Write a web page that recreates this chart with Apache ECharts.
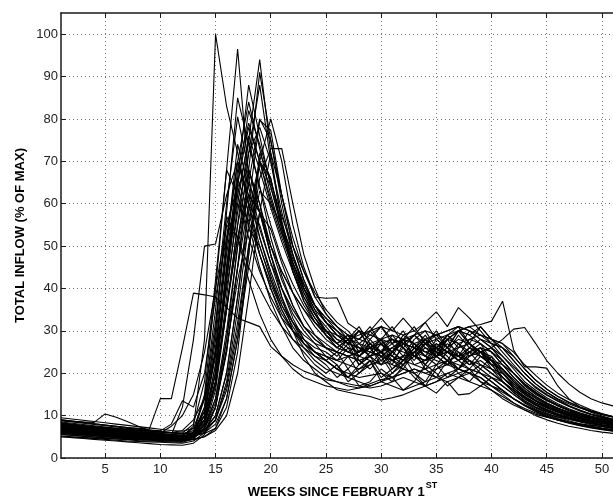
<!DOCTYPE html>
<html>
<head>
<meta charset="utf-8">
<script src="https://cdn.jsdelivr.net/npm/echarts@6/dist/echarts.min.js"></script>
<style>
  html, body { margin: 0; padding: 0; background: #fff; }
  #chart { width: 613px; height: 498px; }
</style>
</head>
<body>
<div id="chart"></div>
<script>
// Weekly total inflow, one line per year, as percent of the record weekly maximum
const weeks = [1,2,3,4,5,6,7,8,9,10,11,12,13,14,15,16,17,18,19,20,21,22,23,24,25,26,
  27,28,29,30,31,32,33,34,35,36,37,38,39,40,41,42,43,44,45,46,47,48,49,50,51,52];
const xTickValues = [5,10,15,20,25,30,35,40,45,50];
const yTickValues = [0,10,20,30,40,50,60,70,80,90,100];

const s01 = [7.5,7.3,7.0,6.8,6.5,6.3,6.1,5.9,5.7,5.5,5.3,5.1, 7.5,28,100,83,72,60,50,42,36,32,29,27,26,25,24,23,24,25,23,22,24,26,25,23,24,26,25,23, 20,17,15,13.5,12.5,11.6,10.9,10.3,9.7,9.2,8.8,8.4];
const s02 = [6.5,6.3,6.1,5.9,5.7,5.5,5.3,5.1,4.9,4.7,4.5,4.4, 6,15,40,68,96.5,66,54,46,40,35,31,29, 27,25,28,23,21,24,20,23,26,22,25,28,24,22,25,21, 18,15.5,13.5,12,11,10.2,9.5,9,8.5,8.1,7.8,7.5];
const s03 = [8,7.7,7.4,7.1,6.8,6.5,6.3,6.1,5.9,5.7,5.5,5.3, 5.8,9,18,35,55,75,94,72,55,44,37,33, 30,27,29,25,30,27,24,28,31,27,25,29,26,30,28,26, 23,20,17,15,13.5,12.3,11.3,10.5,9.8,9.2,8.7,8.3];
const s04 = [9,8.7,8.4,8.1,7.8,7.5,7.2,7.0,6.8,14,14,26, 38.9,38.5,38,35.5,33,32,31,26.3,24,22,20.5,19.5,18.5,18,17.5,17,16.5,17,18,19,18,17,18,20,21,20,18,16, 14,12.5,11.3,10.3,9.6,9,8.5,8.1,7.7,7.4,7.1,6.8];
const s05 = [6,5.8,5.6,5.4,5.2,5.0,4.8,4.7,4.6,4.5,5.5,12, 28,50,50.5,62,70,60,48,40,34,30,27,25,24,23,22,21,22,23,22,21,20,21,22,23,22,21,20,18, 16,14,12.5,11.3,10.4,9.7,9.1,8.6,8.2,7.8,7.5,7.2];
const s06 = [8.8,8.6,8.5,8.4,10.4,9.6,8.6,7.5,6.5,6.2,6.0,6.5, 9,14,25,40,58,72,78,70,58,48,40,34,30,28,27,26,25,24,26,28,27,25,24,26,28,27,25,22, 19,16.5,14.5,13,12,11.2,10.5,9.9,9.4,9,8.6,8.3];
const s07 = [7,6.8,6.6,6.4,6.2,6,5.8,5.6,5.4,5.3,5.2,5.1, 5.5,7,12,25,45,65,80,75,62,50,42,36,32,30,28,27,26,27,28,27,26,27,28,29,30,31,31.5,32.3, 37,25.5,21.5,21.5,21.2,17,14,12,10.8,9.9,9.2,8.7];
const s08 = [6.8,6.6,6.4,6.2,6.0,5.8,5.6,5.4,5.2,5.0,4.9,4.8, 5.2,6.5,10,20,38,58,70,66,55,45,38,33,29,27,25,24,23,22,23,24,25,24,23,22,23,24,25,26, 28,30.4,30.8,27,23,20,17.5,15.5,14,13,12.3,11.8];
const s09 = [5.5,5.3,5.1,4.9,4.7,4.5,4.3,4.1,4.0,3.9,3.8,3.7, 4.5,8,18,35,55,68,60,48,38,30,24,20,18,16.1,15.5,15,14.5,13.7,14.2,14.9,16,17,18,19,20,21,20,19, 17,15,13,11.5,10.3,9.3,8.5,7.9,7.4,7.0,6.7,6.4];
const s10 = [6.2,6.0,5.8,5.6,5.4,5.2,5.0,4.9,4.8,4.7,4.6,4.5, 5,7,14,30,50,62,58,48,40,33,28,25,23,21,20,19,19.5,20,19,21,20,17,15.3,18,14.9,15.2,17,19, 18,16,14,12.5,11.3,10.3,9.5,8.8,8.2,7.7,7.3,7.0];
const s11 = [7.2,7.0,6.8,6.6,6.4,6.2,6.0,5.8,5.6,5.4,5.2,5.0, 5.3,6,8,14,28,48,70,80,70,55,45,38,37.7,37.8,31.8,30,29,28,27,28,29,30,29,28,27,28,29,28, 26,23,20,17.5,15.5,14,12.8,11.8,11,10.3,9.7,9.2];
const s12 = [6.5,6.3,6.1,5.9,5.7,5.5,5.3,5.1,5.0,4.9,4.8,4.7, 5,6,9,16,30,50,66,73,73,60,48,40, 34,31,28,30,26,28,25,29,27,24,28,26,30,27,31,28, 25,22,19,16.5,14.8,13.4,12.2,11.2,10.4,9.7,9.1,8.6];
const s13 = [7.8,7.5,7.2,6.9,6.6,6.3,6.0,5.8,5.6,5.4,5.2,5.0, 6,12,30,58,85,74,64,55,47,41,36,32,29,27,25,24,26,23,25,27,24,22,26,24,21,25,27,23, 19,16.5,14.5,13,11.8,10.8,10,9.3,8.8,8.3,7.9,7.5];
const s14 = [6.0,5.8,5.6,5.4,5.2,5.0,4.8,4.6,4.5,4.4,4.3,4.2, 4.8,7,13,25,45,68,91,75,60,48,40,35, 29,26,28,24,27,25,29,26,23,27,30,26,24,28,27,25, 22,19,16.5,14.5,13,11.8,10.8,10,9.3,8.7,8.2,7.8];
const s15 = [7.0,6.8,6.6,6.4,6.2,6.0,5.8,5.6,5.4,5.2,5.0,4.9, 5.2,6.5,10,20,38,60,79.7,77.3,62,50,42,36,32,29,27,26,25,24,23,24,25,27,26,25,24,25,26,25, 23,20,17.5,15.5,13.8,12.5,11.4,10.5,9.8,9.2,8.7,8.2];
const s16 = [8.2,7.9,7.6,7.3,7.0,6.7,6.4,6.2,6.0,5.8,5.6,5.4, 7,14,35,60,80.5,68,58,50,44,39,35,31,28,26,25,27,24,22,25,23,26,28,24,22,25,23,21,24, 18,15.5,13.5,12,10.9,10,9.3,8.7,8.2,7.8,7.4,7.1];
const s17 = [5.8,5.6,5.4,5.2,5.0,4.8,4.6,4.4,4.3,4.2,4.1,4.0, 4.5,7,16,35,52,65,58,48,40,34,30,27, 24,22,19,21,23,18,20,22,19,17,21,23,20,18,21,19, 17,15,13.2,11.8,10.6,9.6,8.8,8.1,7.5,7.0,6.6,6.3];
const s18 = [9.5,9.2,8.9,8.6,8.3,8.0,7.7,7.4,7.1,6.8,6.5,6.3, 7,10,20,42,62,75,64,52,43,36,31,28,26,25,24,25,26,27,28,27,26,25,26,28,30,29,27,25, 22,19,16.5,14.5,13,11.8,10.8,10,9.3,8.7,8.2,7.8];
const s19 = [6.8,6.6,6.4,6.2,6.0,5.8,5.6,5.4,5.3,5.2,5.1,5.0, 6,11,28,52,70,62,52,44,37,32,28,25, 23,21,24,20,22,25,21,23,27,24,22,25,23,21,24,22, 21,18,15.5,13.5,12,10.9,10,9.3,8.7,8.2,7.8,7.4];
const s20 = [7.4,7.2,7.0,6.8,6.6,6.4,6.2,6.0,5.8,5.6,5.4,5.2, 5.4,5.8,7,12,25,48,72,66,54,44,37,32, 29,26,28,24,27,25,22,27,29,26,24,28,30,31,29,27, 26,23,20,17.5,15.5,13.8,12.4,11.3,10.4,9.7,9.1,8.6];
const s21 = [5.2,5.0,4.8,4.6,4.4,4.2,4.0,3.9,3.8,3.7,3.6,3.5, 4,6,12,28,45,60,55,46,38,32,27,24, 22,19,21,17,18,21,19,16,18,22,20,17,19,21,18,17, 16,14,12.4,11,9.9,9,8.3,7.7,7.2,6.8,6.4,6.1];
const s22 = [8.0,7.8,7.6,7.4,7.2,7.0,6.8,6.6,6.4,6.2,6.0,5.9, 8,18,42,68,62,52,44,38,33,30,28,26, 25,23,26,22,24,27,23,21,25,28,24,22,26,27,24,23, 21,18,15.5,13.5,12,10.9,10,9.3,8.7,8.2,7.8,7.4];
const s23 = [6.6,6.4,6.2,6.0,5.8,5.6,5.4,5.2,5.0,4.9,4.8,4.7, 5,8,18,36,52,62,58,50,44,39,35,32,30,29,28,29,30,31,30,29,30,32,34.5,31,35.5,33,30,27, 24,21,18,16,14.2,12.8,11.6,10.7,9.9,9.3,8.8,8.4];
const s24 = [7.6,7.3,7.0,6.7,6.4,6.1,5.9,5.7,5.5,5.3,5.1,4.9, 5.5,9,22,45,65,78,70,60,52,45,39,34,31,28,26,25,27,24,23,26,22,21,24,27,25,22,23,21, 19,17,15,13.4,12.1,11,10.1,9.4,8.8,8.3,7.8,7.4];
const s25 = [5.0,4.9,4.8,4.7,4.6,4.5,4.4,4.3,4.2,4.1,4.0,3.9, 5,10,25,48,66,58,48,40,33,28,25,22, 20,22,18,20,23,19,21,24,20,18,22,19,21,23,20,18, 16,14,12.3,10.9,9.8,8.9,8.2,7.6,7.1,6.7,6.3,6.0];
const s26 = [6.3,6.1,5.9,5.7,5.5,5.3,5.1,4.9,4.7,4.5,4.3,4.1, 4.3,5,7,14,28,45,58,54,46,39,33,29, 26,24,27,22,25,28,24,22,26,29,25,23,27,25,24,23, 22,20,17.5,15.5,13.8,12.4,11.2,10.3,9.5,8.9,8.4,7.9];
const s27 = [8.5,8.2,7.9,7.6,7.3,7.0,6.7,6.5,6.3,6.1,5.9,5.7, 6.5,11,24,50,70,84,73,62,53,46,40,36,32,30,27,28,31,27,25,28,24,23,26,29,27,24,26,23, 20,17.5,15.3,13.6,12.3,11.2,10.3,9.6,9,8.5,8.1,7.7];
const s28 = [5.6,5.4,5.2,5.0,4.8,4.7,4.6,4.5,4.4,4.3,4.2,4.1, 6,14,32,55,52,45,40,35,31,28,26,24, 23,21,19,22,24,20,18,22,25,21,19,23,21,20,22,20, 18,16,14,12.4,11.1,10,9.2,8.5,7.9,7.4,7.0,6.7];
const s29 = [7.9,7.6,7.3,7.0,6.7,6.4,6.2,6.0,5.8,5.6,5.4,5.2, 5.5,6.5,9,18,35,55,70,64,54,46,40,36,33,31,29,28,30,33,30,33,30,28,29,30,31,30,29,28, 27,25,22,19.5,17.2,15.3,13.8,12.5,11.4,10.5,9.8,9.2];
const s30 = [6.9,6.7,6.5,6.3,6.1,5.9,5.7,5.5,5.3,5.1,4.9,4.7, 5.2,9,22,44,64,55,45,37,31,26,23,21,19,18,17,16.5,17,18,17,16,17,18,19,20,19,18,17,16, 14.5,13,11.7,10.6,9.7,9,8.4,7.9,7.4,7,6.7,6.4];
const s31 = [7.3,7.1,6.9,6.7,6.5,6.3,6.1,5.9,5.7,5.5,5.3,5.1, 5.5,7.5,14,28,50,72,88,70,56,46,39,34, 30,27,29,25,28,31,27,24,28,30,26,29,31,27,25,24, 21,18.5,16,14.2,12.8,11.6,10.6,9.8,9.2,8.6,8.1,7.7];
const s32 = [6.1,5.9,5.7,5.5,5.3,5.1,4.9,4.7,4.6,4.5,4.4,4.3, 4.8,8,17,38,60,76,68,59,51,44,38,34,30,27,29,26,24,27,25,23,25,28,26,23,21,24,26,22, 19,16.5,14.3,12.6,11.3,10.2,9.4,8.7,8.1,7.6,7.2,6.8];
const s33 = [8.8,8.5,8.2,7.9,7.6,7.3,7.0,6.8,6.6,6.4,8,13.5, 12,20,38,52,60,56,48,41,35,30,27,25,24,23,24,25,26,25,24,23,22,23,24,25,24,23,22,20, 18,16,14.2,12.7,11.5,10.5,9.7,9,8.4,7.9,7.5,7.1];
const s34 = [7.7,7.5,7.3,7.1,6.9,6.7,6.5,6.3,6.1,5.9,7.5,10, 15,25,40,55,64,68,60,50,42,36,31,28,26,25,24,23,24,25,26,25,24,23,24,25,26,27,25,23, 20.5,18,15.8,14,12.6,11.4,10.4,9.6,8.9,8.3,7.8,7.4];
const s35 = [6.4,6.2,6.0,5.8,5.6,5.4,5.2,5.0,4.8,4.6,4.4,4.3, 4.5,5,6.5,10,20,38,58,72,62,52,44,38,34,31,29,28,27,28,29,28,27,28,29,30,31,30,28,26, 24,21.5,19,16.8,15,13.5,12.2,11.1,10.2,9.5,8.9,8.4];
const s36 = [9.0,8.7,8.4,8.1,7.8,7.5,7.2,6.9,6.6,6.3,6.0,5.8, 6.2,9,20,42,64,82,74,65,57,50,44,39,35,32,30,27,29,31,28,26,29,27,24,28,30,27,25,26, 23,20,17.3,15.2,13.6,12.3,11.2,10.3,9.6,9,8.5,8.1];
const s37 = [5.0,4.8,4.6,4.4,4.2,4.0,3.8,3.6,3.4,3.2,3.1,3.0, 3.5,5.5,12,26,42,54,50,42,35,30,26,23,21,20,19,18,17,18,19,20,21,20,19,18,19,20,19,17, 15,13,11.3,10,9,8.2,7.5,7,6.5,6.1,5.8,5.5];
const s38 = [7.1,6.9,6.7,6.5,6.3,6.1,5.9,5.7,5.5,5.3,5.1,5.0, 5.8,10,26,50,74,64,52,43,36,31,27,25, 23,25,21,24,26,22,25,28,24,23,27,25,29,26,28,27, 26,24,21,18.3,16.2,14.5,13.1,12,11,10.2,9.6,9];
const s39 = [6.7,6.5,6.3,6.1,5.9,5.7,5.5,5.3,5.1,4.9,4.7,4.6, 5.2,8,18,42,66,88,76,64,55,47,41,36,33,30,28,31,27,25,28,26,24,27,29,26,23,25,22,21, 20,17.5,15.3,13.5,12.1,11,10.1,9.4,8.8,8.3,7.9,7.5];
const s40 = [8.3,8.0,7.7,7.4,7.1,6.9,6.7,6.5,6.3,6.1,5.9,5.7, 5.9,6.5,9,17,32,50,63,60,55,48,41,36, 32,29,27,30,26,28,31,27,29,32,28,26,30,29,31,28, 27,24,21,18.4,16.3,14.6,13.2,12.1,11.2,10.4,9.8,9.2];
const s41 = [5.9,5.7,5.5,5.3,5.1,4.9,4.7,4.5,4.3,4.2,4.1,4.0, 5,12,30,57,52,42,34,28,24,21,19,18,17,16.5,16,16.5,17.5,18.5,19,20,21,20,21,22,21,20,19,17, 15.5,14,12.5,11.2,10.1,9.2,8.5,7.9,7.4,6.9,6.5,6.2];
const s42 = [7.0,6.8,6.6,6.4,6.2,6.0,5.8,5.6,5.4,5.2,5.0,4.8, 5.3,8.5,20,45,68,79,70,61,53,46,40,35,32,29,27,30,28,25,27,30,26,24,27,25,23,26,24,22, 23,20,17.4,15.3,13.7,12.4,11.3,10.4,9.7,9.1,8.6,8.2];

const yearlySeries = [s01,s02,s03,s04,s05,s06,s07,s08,s09,s10,s11,s12,s13,s14,s15,s16,s17,s18,s19,s20,s21,
  s22,s23,s24,s25,s26,s27,s28,s29,s30,s31,s32,s33,s34,s35,s36,s37,s38,s39,s40,s41,s42];

const FONT = 'Liberation Sans, Arial, Helvetica, sans-serif';
const INK = '#1a1a1a';

const chart = echarts.init(document.getElementById('chart'), null, { renderer: 'canvas' });

const gridLine = { show: true, lineStyle: { color: '#777', width: 1, type: [1, 3] } };

chart.setOption({
  animation: false,
  backgroundColor: '#fff',
  // the plot box runs past the right edge of the canvas (week 52 is off-screen)
  grid: { left: 61, top: 13, width: 563, bottom: 40, containLabel: false, outerBoundsMode: 'none' },
  xAxis: [
    {
      type: 'value', min: 1, max: 52, position: 'bottom',
      name: '{a|WEEKS SINCE FEBRUARY 1}{b|ST}',
      nameLocation: 'middle', nameGap: 22,
      nameTextStyle: {
        rich: {
          a: { fontFamily: FONT, fontWeight: 'bold', fontSize: 13, color: '#000', lineHeight: 18, verticalAlign: 'bottom' },
          b: { fontFamily: FONT, fontWeight: 'bold', fontSize: 9, color: '#000', lineHeight: 18, verticalAlign: 'top', padding: [0, 0, 0, 1] }
        }
      },
      axisLine: { show: true, lineStyle: { color: INK, width: 1.5 } },
      axisTick: { show: true, inside: true, length: 5, customValues: xTickValues, lineStyle: { color: INK } },
      axisLabel: { customValues: xTickValues, fontFamily: FONT, fontSize: 13, color: '#222', margin: 5 },
      splitLine: gridLine
    },
    {
      type: 'value', min: 1, max: 52, position: 'top',
      axisLine: { show: true, lineStyle: { color: INK, width: 1.5 } },
      axisTick: { show: true, inside: true, length: 5, customValues: xTickValues, lineStyle: { color: INK } },
      axisLabel: { show: false },
      splitLine: { show: false }
    }
  ],
  yAxis: {
    type: 'value', min: 0, max: 105,
    name: 'TOTAL INFLOW (% OF MAX)',
    nameLocation: 'middle', nameGap: 34, nameRotate: 90, nameMoveOverlap: false,
    nameTextStyle: { fontFamily: FONT, fontWeight: 'bold', fontSize: 13, color: '#000' },
    axisLine: { show: true, lineStyle: { color: INK, width: 1.5 } },
    axisTick: { show: true, inside: true, length: 5, customValues: yTickValues, lineStyle: { color: INK } },
    axisLabel: { customValues: yTickValues, fontFamily: FONT, fontSize: 13, color: '#222', margin: 3 },
    splitLine: gridLine
  },
  series: yearlySeries.map(function (vals, k) {
    return {
      name: 'year ' + (k + 1),
      type: 'line',
      xAxisIndex: 0,
      showSymbol: false,
      symbol: 'none',
      silent: true,
      clip: true,
      lineStyle: { color: '#000', width: 1.1 },
      data: weeks.map(function (w, i) { return [w, vals[i]]; })
    };
  })
});
</script>
</body>
</html>
